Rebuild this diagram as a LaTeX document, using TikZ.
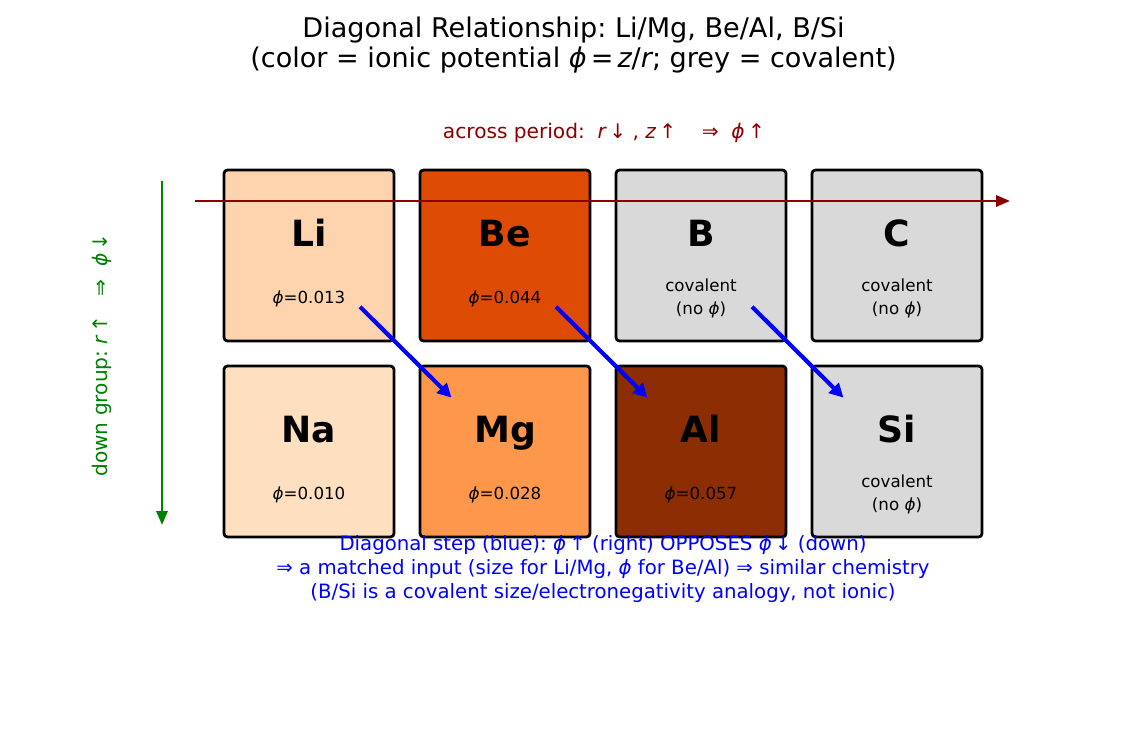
\documentclass[tikz,border=0pt]{standalone}
\usepackage{fontspec}
\setmainfont{DejaVu Sans}
\frenchspacing
\usetikzlibrary{arrows.meta, positioning, calc}
\definecolor{fillLi}{HTML}{FDD4AE}
\definecolor{fillBe}{HTML}{DD4B04}
\definecolor{fillNa}{HTML}{FEE0C1}
\definecolor{fillMg}{HTML}{FD974B}
\definecolor{fillAl}{HTML}{8C2D04}
\definecolor{fillCov}{HTML}{D9D9D9}
\definecolor{periodred}{HTML}{8B0000}
\definecolor{groupgreen}{HTML}{008000}
\newcommand{\phisym}{{\itshape ϕ}}
\tikzset{
  cellbox/.style={
    draw=black, line width=2pt, rounded corners=2.5pt,
    minimum width=122.4pt, minimum height=123.1pt,
    outer sep=0pt, inner sep=0pt
  },
  symtext/.style={font=\fontsize{26}{30}\selectfont\bfseries, anchor=base},
  phitext/.style={font=\fontsize{12}{16.6}\selectfont, align=center, anchor=base},
  periodarrow/.style={-{Triangle[length=10pt,width=8pt]}, line width=2pt, color=periodred},
  grouparrow/.style={-{Triangle[length=10pt,width=8pt]}, line width=1.8pt, color=groupgreen},
  diagarrow/.style={-{Triangle[length=10pt,width=10pt]}, line width=3pt, color=blue}
}

\begin{document}
\begin{tikzpicture}[x=0.72pt, y=-0.72pt]
\useasboundingbox (0,0) rectangle (1146,731);

% title
\node[font=\fontsize{19.5}{22.3}\selectfont, align=center, anchor=base] (title) at (573.5,68)
  {Diagonal Relationship: Li/Mg, Be/Al, B/Si\\(color = ionic potential \phisym\hspace{0.15em}=\hspace{0.15em}{\itshape z}/{\itshape r}; grey = covalent)};

% cells
\node[cellbox, fill=fillLi] (Li) at (309,255.5) {};
\node[cellbox, fill=fillBe, right=18.72pt of Li] (Be) {};
\node[cellbox, fill=fillCov, right=18.72pt of Be] (B) {};
\node[cellbox, fill=fillCov, right=18.72pt of B] (C) {};
\node[cellbox, fill=fillNa, below=18pt of Li] (Na) {};
\node[cellbox, fill=fillMg, right=18.72pt of Na] (Mg) {};
\node[cellbox, fill=fillAl, right=18.72pt of Mg] (Al) {};
\node[cellbox, fill=fillCov, right=18.72pt of Al] (Si) {};

% symbols and values
\node[symtext] (LiSym) at ($(Li)+(0,-8.5)$) {Li};
\node[symtext] (BeSym) at ($(Be)+(0,-8.5)$) {Be};
\node[symtext] (BSym)  at ($(B)+(0,-8.5)$)  {B};
\node[symtext] (CSym)  at ($(C)+(0,-8.5)$)  {C};
\node[symtext] (NaSym) at ($(Na)+(0,-8.5)$) {Na};
\node[symtext] (MgSym) at ($(Mg)+(0,-8.5)$) {Mg};
\node[symtext] (AlSym) at ($(Al)+(0,-8.5)$) {Al};
\node[symtext] (SiSym) at ($(Si)+(0,-8.5)$) {Si};

\node[phitext] (LiVal) at ($(Li)+(0,48.5)$) {\phisym=0.013};
\node[phitext] (BeVal) at ($(Be)+(0,48.5)$) {\phisym=0.044};
\node[phitext] (BVal)  at ($(B)+(0,59.5)$)  {covalent\\(no \phisym)};
\node[phitext] (CVal)  at ($(C)+(0,59.5)$)  {covalent\\(no \phisym)};
\node[phitext] (NaVal) at ($(Na)+(0,48.5)$) {\phisym=0.010};
\node[phitext] (MgVal) at ($(Mg)+(0,48.5)$) {\phisym=0.028};
\node[phitext] (AlVal) at ($(Al)+(0,48.5)$) {\phisym=0.057};
\node[phitext] (SiVal) at ($(Si)+(0,59.5)$) {covalent\\(no \phisym)};

% trends
\coordinate (periodStart) at (195,201);
\coordinate (periodEnd) at (1010,201);
\draw[periodarrow] (periodStart) -- (periodEnd);
\node[font=\fontsize{14.5}{17}\selectfont, text=periodred, anchor=base] (periodLabel) at (604,139)
  {across period:\ \ {\itshape r}\,↓\ , {\itshape z}\,↑\ \ \ \ ⇒\ \ \phisym\,↑};

\coordinate (groupStart) at (162,181);
\coordinate (groupEnd) at (162,525);
\draw[grouparrow] (groupStart) -- (groupEnd);
\node[font=\fontsize{14.5}{17}\selectfont, text=groupgreen, rotate=90] (groupLabel) at (102,355)
  {down group: {\itshape r}\,↑\ \ \ ⇒\ \ \phisym\,↓};

% diagonal steps
\draw[diagarrow] ($(Li.center)!0.6!(Li.south east)$) -- ($(Mg.center)!0.63!(Mg.north west)$);
\draw[diagarrow] ($(Be.center)!0.6!(Be.south east)$) -- ($(Al.center)!0.63!(Al.north west)$);
\draw[diagarrow] ($(B.center)!0.6!(B.south east)$) -- ($(Si.center)!0.63!(Si.north west)$);

\node[font=\fontsize{14.2}{17.6}\selectfont, text=blue, align=center, anchor=base] (note) at (603,599)
  {Diagonal step (blue): \phisym\,↑ (right) OPPOSES \phisym\,↓ (down)\\
   ⇒\ a matched input (size for Li/Mg, \phisym\ for Be/Al) ⇒\ similar chemistry\\
   (B/Si is a covalent size/electronegativity analogy, not ionic)};
\end{tikzpicture}
\end{document}
